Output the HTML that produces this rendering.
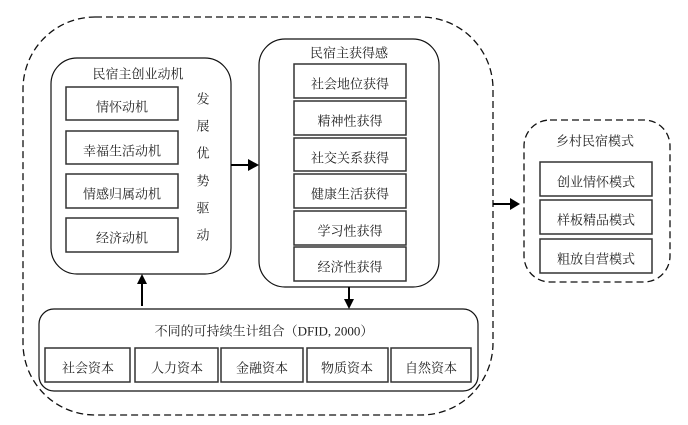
<!DOCTYPE html>
<html><head><meta charset="utf-8"><style>
html,body{margin:0;padding:0;background:#fff;width:688px;height:425px;overflow:hidden}
svg{display:block}
text{font-family:"Liberation Serif","Noto Serif CJK SC",serif;font-size:13px;fill:#222;text-anchor:middle;dominant-baseline:central}
.b{fill:#fff;stroke:#333;stroke-width:1.5}
.r{fill:#fff;stroke:#111;stroke-width:1.2}
.d{fill:none;stroke:#111;stroke-width:1.3;stroke-dasharray:7 4}
.a{stroke:#000;stroke-width:2;fill:none}
</style></head><body>
<svg width="688" height="425" viewBox="0 0 688 425" xmlns="http://www.w3.org/2000/svg">
<rect class="d" x="23" y="17" width="470" height="398" rx="72" ry="72"/>
<rect class="d" x="524" y="120" width="146" height="162" rx="26" ry="26"/>

<rect class="r" x="51" y="58" width="180" height="216" rx="26" ry="26"/>
<text x="138" y="74">民宿主创业动机</text>
<rect class="b" x="66" y="87" width="112" height="33"/><text x="122" y="107">情怀动机</text>
<rect class="b" x="66" y="131" width="112" height="33"/><text x="122" y="151">幸福生活动机</text>
<rect class="b" x="66" y="174" width="112" height="34"/><text x="122" y="194">情感归属动机</text>
<rect class="b" x="66" y="218" width="112" height="34"/><text x="122" y="238">经济动机</text>
<text x="203" y="99">发</text><text x="203" y="126">展</text><text x="203" y="153">优</text><text x="203" y="181">势</text><text x="203" y="208">驱</text><text x="203" y="235">动</text>

<rect class="r" x="259" y="39" width="180" height="248" rx="26" ry="26"/>
<text x="349" y="53">民宿主获得感</text>
<rect class="b" x="294" y="64" width="112" height="34"/><text x="350" y="84">社会地位获得</text>
<rect class="b" x="294" y="101" width="112" height="34"/><text x="350" y="121">精神性获得</text>
<rect class="b" x="294" y="138" width="112" height="33"/><text x="350" y="158">社交关系获得</text>
<rect class="b" x="294" y="174" width="112" height="34"/><text x="350" y="194">健康生活获得</text>
<rect class="b" x="294" y="211" width="112" height="34"/><text x="350" y="231">学习性获得</text>
<rect class="b" x="294" y="247" width="112" height="34"/><text x="350" y="267">经济性获得</text>

<rect class="r" x="39" y="309" width="439" height="82" rx="15" ry="15"/>
<text x="264" y="331">不同的可持续生计组合（DFID, 2000）</text>
<rect class="b" x="45" y="348" width="85" height="34"/><text x="88" y="368">社会资本</text>
<rect class="b" x="135" y="348" width="83" height="34"/><text x="177" y="368">人力资本</text>
<rect class="b" x="221" y="348" width="82" height="34"/><text x="262" y="368">金融资本</text>
<rect class="b" x="307" y="348" width="81" height="34"/><text x="347" y="368">物质资本</text>
<rect class="b" x="391" y="348" width="80" height="34"/><text x="431" y="368">自然资本</text>

<text x="595" y="141">乡村民宿模式</text>
<rect class="b" x="540" y="162" width="112" height="34"/><text x="596" y="182">创业情怀模式</text>
<rect class="b" x="540" y="200" width="112" height="34"/><text x="596" y="220">样板精品模式</text>
<rect class="b" x="540" y="239" width="112" height="34"/><text x="596" y="259">粗放自营模式</text>

<path class="a" d="M231 165H250"/><polygon points="248,159 259,165 248,171" fill="#000"/>
<path class="a" d="M142 306V283"/><polygon points="137,284 142,274 147,284" fill="#000"/>
<path class="a" d="M349 287V300"/><polygon points="344,299 354,299 349,309" fill="#000"/>
<path class="a" d="M493 204H512"/><polygon points="510,198 520,204 510,210" fill="#000"/>
</svg>
</body></html>
